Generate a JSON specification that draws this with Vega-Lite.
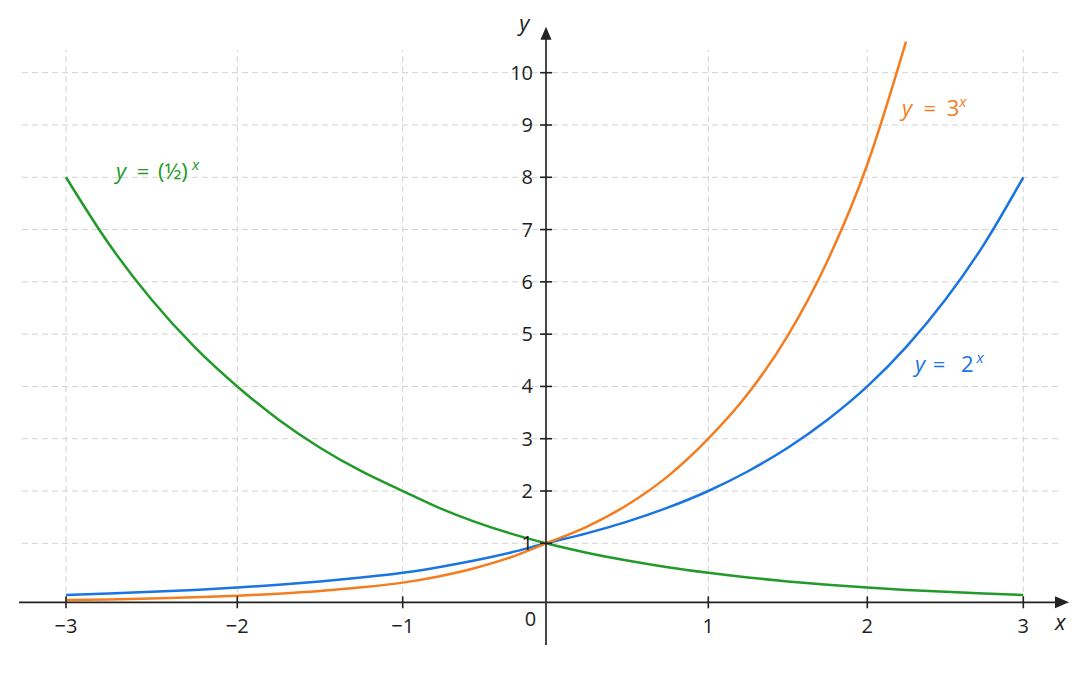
{
  "$schema": "https://vega.github.io/schema/vega-lite/v6.json",
  "width": 1080,
  "height": 676,
  "autosize": "none",
  "padding": 0,
  "background": "white",
  "config": {"view": {"stroke": null}},
  "datasets": {
    "hgrid": [
      {"y": 1, "x": -3.257, "x2": 3.248}, {"y": 2, "x": -3.257, "x2": 3.248},
      {"y": 3, "x": -3.257, "x2": 3.248}, {"y": 4, "x": -3.257, "x2": 3.248},
      {"y": 5, "x": -3.257, "x2": 3.248}, {"y": 6, "x": -3.257, "x2": 3.248},
      {"y": 7, "x": -3.257, "x2": 3.248}, {"y": 8, "x": -3.257, "x2": 3.248},
      {"y": 9, "x": -3.257, "x2": 3.248}, {"y": 10, "x": -3.257, "x2": 3.248}
    ],
    "vgrid": [
      {"x": -3, "y": 0, "y2": 10.434}, {"x": -2, "y": 0, "y2": 10.434},
      {"x": -1, "y": 0, "y2": 10.434}, {"x": 1, "y": 0, "y2": 10.434},
      {"x": 2, "y": 0, "y2": 10.434}, {"x": 3, "y": 0, "y2": 10.434}
    ],
    "xticks": [
      {"x": -3, "y": 0, "label": "−3"}, {"x": -2, "y": 0, "label": "−2"},
      {"x": -1, "y": 0, "label": "−1"}, {"x": 1, "y": 0, "label": "1"},
      {"x": 2, "y": 0, "label": "2"}, {"x": 3, "y": 0, "label": "3"}
    ],
    "yticks": [
      {"x": 0, "y": 1, "label": "1"}, {"x": 0, "y": 2, "label": "2"},
      {"x": 0, "y": 3, "label": "3"}, {"x": 0, "y": 4, "label": "4"},
      {"x": 0, "y": 5, "label": "5"}, {"x": 0, "y": 6, "label": "6"},
      {"x": 0, "y": 7, "label": "7"}, {"x": 0, "y": 8, "label": "8"},
      {"x": 0, "y": 9, "label": "9"}, {"x": 0, "y": 10, "label": "10"}
    ],
    "origin": [{"x": 0, "y": 0, "label": "0"}],
    "xaxis": [{"x": -3.274, "x2": 3.236, "y": 0}],
    "yaxis": [{"x": 0, "y": -0.724, "y2": 10.724}],
    "xarrow": [{"x": 3.248, "y": 0}],
    "yarrow": [{"x": 0, "y": 10.753}],
    "curves": [
      {"series": "half", "x": -3, "y": 8},
      {"series": "half", "x": -2.75, "y": 6.7272},
      {"series": "half", "x": -2.5, "y": 5.6569},
      {"series": "half", "x": -2.25, "y": 4.7568},
      {"series": "half", "x": -2, "y": 4},
      {"series": "half", "x": -1.75, "y": 3.3636},
      {"series": "half", "x": -1.5, "y": 2.8284},
      {"series": "half", "x": -1.25, "y": 2.3784},
      {"series": "half", "x": -1, "y": 2},
      {"series": "half", "x": -0.75, "y": 1.6818},
      {"series": "half", "x": -0.5, "y": 1.4142},
      {"series": "half", "x": -0.25, "y": 1.1892},
      {"series": "half", "x": 0, "y": 1},
      {"series": "half", "x": 0.25, "y": 0.8409},
      {"series": "half", "x": 0.5, "y": 0.7071},
      {"series": "half", "x": 0.75, "y": 0.5946},
      {"series": "half", "x": 1, "y": 0.5},
      {"series": "half", "x": 1.25, "y": 0.4204},
      {"series": "half", "x": 1.5, "y": 0.3536},
      {"series": "half", "x": 1.75, "y": 0.2973},
      {"series": "half", "x": 2, "y": 0.25},
      {"series": "half", "x": 2.25, "y": 0.2102},
      {"series": "half", "x": 2.5, "y": 0.1768},
      {"series": "half", "x": 2.75, "y": 0.1487},
      {"series": "half", "x": 3, "y": 0.125},
      {"series": "two", "x": -3, "y": 0.125},
      {"series": "two", "x": -2.75, "y": 0.1487},
      {"series": "two", "x": -2.5, "y": 0.1768},
      {"series": "two", "x": -2.25, "y": 0.2102},
      {"series": "two", "x": -2, "y": 0.25},
      {"series": "two", "x": -1.75, "y": 0.2973},
      {"series": "two", "x": -1.5, "y": 0.3536},
      {"series": "two", "x": -1.25, "y": 0.4204},
      {"series": "two", "x": -1, "y": 0.5},
      {"series": "two", "x": -0.75, "y": 0.5946},
      {"series": "two", "x": -0.5, "y": 0.7071},
      {"series": "two", "x": -0.25, "y": 0.8409},
      {"series": "two", "x": 0, "y": 1},
      {"series": "two", "x": 0.25, "y": 1.1892},
      {"series": "two", "x": 0.5, "y": 1.4142},
      {"series": "two", "x": 0.75, "y": 1.6818},
      {"series": "two", "x": 1, "y": 2},
      {"series": "two", "x": 1.25, "y": 2.3784},
      {"series": "two", "x": 1.5, "y": 2.8284},
      {"series": "two", "x": 1.75, "y": 3.3636},
      {"series": "two", "x": 2, "y": 4},
      {"series": "two", "x": 2.25, "y": 4.7568},
      {"series": "two", "x": 2.5, "y": 5.6569},
      {"series": "two", "x": 2.75, "y": 6.7272},
      {"series": "two", "x": 3, "y": 8},
      {"series": "three", "x": -3, "y": 0.037},
      {"series": "three", "x": -2.75, "y": 0.0488},
      {"series": "three", "x": -2.5, "y": 0.0642},
      {"series": "three", "x": -2.25, "y": 0.0845},
      {"series": "three", "x": -2, "y": 0.1111},
      {"series": "three", "x": -1.75, "y": 0.1462},
      {"series": "three", "x": -1.5, "y": 0.1925},
      {"series": "three", "x": -1.25, "y": 0.2533},
      {"series": "three", "x": -1, "y": 0.3333},
      {"series": "three", "x": -0.75, "y": 0.4387},
      {"series": "three", "x": -0.5, "y": 0.5774},
      {"series": "three", "x": -0.25, "y": 0.7598},
      {"series": "three", "x": 0, "y": 1},
      {"series": "three", "x": 0.25, "y": 1.3161},
      {"series": "three", "x": 0.5, "y": 1.7321},
      {"series": "three", "x": 0.75, "y": 2.2795},
      {"series": "three", "x": 1, "y": 3},
      {"series": "three", "x": 1.25, "y": 3.863},
      {"series": "three", "x": 1.5, "y": 4.973},
      {"series": "three", "x": 1.75, "y": 6.404},
      {"series": "three", "x": 2, "y": 8.245},
      {"series": "three", "x": 2.248, "y": 10.595}
    ],
    "labels": [
      {"series": "half", "part": "var", "x": -2.708, "y": 7.976, "text": "y"},
      {"series": "half", "part": "main", "x": -2.587, "y": 7.976, "text": "="},
      {"series": "half", "part": "main", "x": -2.463, "y": 7.976, "text": "(½)"},
      {"series": "half", "part": "sup", "x": -2.264, "y": 8.139, "text": "x"},
      {"series": "two", "part": "var", "x": 2.306, "y": 4.27, "text": "y"},
      {"series": "two", "part": "main", "x": 2.419, "y": 4.27, "text": "="},
      {"series": "two", "part": "main", "x": 2.6, "y": 4.27, "text": "2"},
      {"series": "two", "part": "sup", "x": 2.7, "y": 4.442, "text": "x"},
      {"series": "three", "part": "var", "x": 2.222, "y": 9.172, "text": "y"},
      {"series": "three", "part": "main", "x": 2.361, "y": 9.172, "text": "="},
      {"series": "three", "part": "main", "x": 2.51, "y": 9.172, "text": "3"},
      {"series": "three", "part": "sup", "x": 2.59, "y": 9.344, "text": "x"},
      {"series": "axis", "part": "var", "x": 3.203, "y": -0.469, "text": "x"},
      {"series": "axis", "part": "var", "x": -0.186, "y": 10.797, "text": "y"}
    ]
  },
  "encoding": {
    "x": {
      "field": "x", "type": "quantitative", "axis": null,
      "scale": {"domain": [-3, -2, -1, 0, 1, 2, 3], "range": [66, 237.3, 402.7, 546, 708.3, 867.3, 1023.3], "nice": false, "zero": false, "clamp": false}
    },
    "y": {
      "field": "y", "type": "quantitative", "axis": null,
      "scale": {"domain": [0, 1, 10], "range": [602.3, 543.3, 72.7], "nice": false, "zero": false, "clamp": false}
    }
  },
  "layer": [
    {
      "data": {"name": "hgrid"},
      "mark": {"type": "rule", "color": "#d2d2d2", "strokeDash": [6, 4], "strokeWidth": 1},
      "encoding": {"x2": {"field": "x2"}}
    },
    {
      "data": {"name": "vgrid"},
      "mark": {"type": "rule", "color": "#d2d2d2", "strokeDash": [6, 4], "strokeWidth": 1},
      "encoding": {"y2": {"field": "y2"}}
    },
    {
      "data": {"name": "curves"},
      "mark": {"type": "line", "strokeWidth": 2.5, "interpolate": "monotone"},
      "encoding": {
        "color": {"field": "series", "type": "nominal", "legend": null,
          "scale": {"domain": ["half", "two", "three", "axis"], "range": ["#229a2a", "#1a74e2", "#f47d1f", "#1e1e1e"]}}
      }
    },
    {
      "data": {"name": "xaxis"},
      "mark": {"type": "rule", "color": "#222222", "strokeWidth": 1.8},
      "encoding": {"x2": {"field": "x2"}}
    },
    {
      "data": {"name": "yaxis"},
      "mark": {"type": "rule", "color": "#333333", "strokeWidth": 1.8},
      "encoding": {"y2": {"field": "y2"}}
    },
    {
      "data": {"name": "xarrow"},
      "mark": {"type": "point", "shape": "M-1,-0.85L1,0L-1,0.85Z", "filled": true, "size": 196, "color": "#222222", "opacity": 1}
    },
    {
      "data": {"name": "yarrow"},
      "mark": {"type": "point", "shape": "M-0.85,1L0,-1L0.85,1Z", "filled": true, "size": 169, "color": "#222222", "opacity": 1}
    },
    {
      "data": {"name": "xticks"},
      "mark": {"type": "tick", "orient": "vertical", "size": 12, "thickness": 1.6, "color": "#222222", "opacity": 1}
    },
    {
      "data": {"name": "yticks"},
      "mark": {"type": "tick", "orient": "horizontal", "size": 12, "thickness": 1.6, "color": "#222222", "opacity": 1}
    },
    {
      "data": {"name": "xticks"},
      "mark": {"type": "text", "font": "Open Sans", "fontSize": 20, "color": "#1e1e1e", "align": "center", "baseline": "alphabetic", "dy": 31},
      "encoding": {"text": {"field": "label"}}
    },
    {
      "data": {"name": "origin"},
      "mark": {"type": "text", "font": "Open Sans", "fontSize": 20, "color": "#1e1e1e", "align": "center", "baseline": "alphabetic", "dx": -15.5, "dy": 24},
      "encoding": {"text": {"field": "label"}}
    },
    {
      "data": {"name": "yticks"},
      "mark": {"type": "text", "font": "Open Sans", "fontSize": 20, "color": "#1e1e1e", "align": "right", "baseline": "middle", "dx": -13, "dy": 1},
      "encoding": {"text": {"field": "label"}}
    },
    {
      "data": {"name": "labels"},
      "transform": [{"filter": "datum.part === 'var'"}],
      "mark": {"type": "text", "font": "Open Sans", "fontSize": 22, "fontStyle": "italic", "align": "left", "baseline": "alphabetic"},
      "encoding": {"text": {"field": "text"}, "color": {"field": "series", "type": "nominal", "legend": null}}
    },
    {
      "data": {"name": "labels"},
      "transform": [{"filter": "datum.part === 'main'"}],
      "mark": {"type": "text", "font": "Open Sans", "fontSize": 22, "align": "left", "baseline": "alphabetic"},
      "encoding": {"text": {"field": "text"}, "color": {"field": "series", "type": "nominal", "legend": null}}
    },
    {
      "data": {"name": "labels"},
      "transform": [{"filter": "datum.part === 'sup'"}],
      "mark": {"type": "text", "font": "Open Sans", "fontSize": 15, "fontStyle": "italic", "align": "left", "baseline": "alphabetic"},
      "encoding": {"text": {"field": "text"}, "color": {"field": "series", "type": "nominal", "legend": null}}
    }
  ]
}
